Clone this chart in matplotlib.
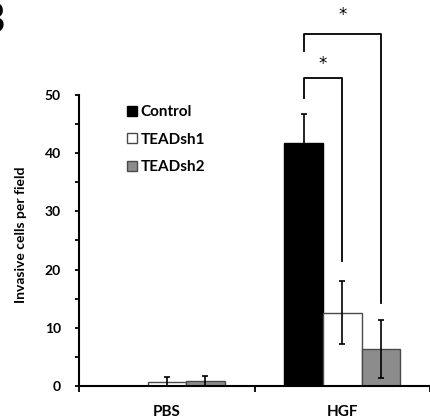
import matplotlib
matplotlib.use('Agg')
import matplotlib.pyplot as plt
from matplotlib.patches import Patch
import numpy as np

plt.rcParams['font.family'] = ['Lato', 'DejaVu Sans']
plt.rcParams['font.weight'] = 'bold'

# data
groups = ['PBS', 'HGF']
series = ['Control', 'TEADsh1', 'TEADsh2']
control = [0.0, 41.7]
control_err = [0.0, 5.1]
teadsh1 = [0.65, 12.6]
teadsh1_err = [0.85, 5.4]
teadsh2 = [0.85, 6.3]
teadsh2_err = [0.9, 5.0]

# significance brackets (HGF group): pairs of series, bracket height, leg ends, star height
sig_pairs = [(0, 1), (0, 2)]
sig_top = [52.9, 60.5]
sig_left_end = [49.5, 57.6]
sig_right_end = [21.5, 14.2]
sig_star = [55.4, 63.8]

values = [control, teadsh1, teadsh2]
errors = [control_err, teadsh1_err, teadsh2_err]
colors = ['black', 'white', '#8c8c8c']
edges = ['black', '#4a4a4a', '#4a4a4a']

fig = plt.figure(figsize=(4.30, 4.19), dpi=100)
ax = fig.add_axes([0.184, 0.0788, 0.816, 0.6945])

x = np.arange(len(groups))
w = 0.22
offsets = [-w, 0, w]
for vals, errs, c, ec, off, name in zip(values, errors, colors, edges, offsets, series):
    vals = np.array(vals)
    errs = np.array(errs)
    lower = np.minimum(errs, vals)
    ax.bar(x + off, vals, width=w, color=c, edgecolor=ec, linewidth=1.0, label=name, zorder=2)
    ax.errorbar(x + off, vals, yerr=[lower, errs], fmt='none', ecolor='black',
                elinewidth=1.2, capsize=2, capthick=1.2, zorder=3)

# brackets
gi = 1
for (a, b), top, le, re, sy in zip(sig_pairs, sig_top, sig_left_end, sig_right_end, sig_star):
    xa = x[gi] + offsets[a]
    xb = x[gi] + offsets[b]
    ax.plot([xa, xa, xb, xb], [le, top, top, re], color='black', linewidth=1.3,
            clip_on=False, zorder=4)
    ax.text((xa + xb) / 2, sy, '*', ha='center', va='center', fontsize=12,
            family='DejaVu Sans', fontweight='normal', clip_on=False)

ax.set_xlim(-0.5, 1.465)
ax.set_ylim(0, 50)
ax.set_yticks([0, 10, 20, 30, 40, 50])
ax.set_yticks([5, 15, 25, 35, 45], minor=True)
ax.set_xticks(x)
ax.set_xticklabels(groups, fontsize=11, fontweight='bold')
ax.set_xticks([-0.5, 0.5, 1.5], minor=True)
ax.tick_params(axis='x', which='major', length=0, pad=14)
ax.tick_params(axis='x', which='minor', length=4, width=1.3, direction='out')
ax.tick_params(axis='y', which='both', length=3, width=1.3, direction='out', pad=10,
               labelsize=10)
for t in ax.get_yticklabels():
    t.set_fontweight('bold')

ax.spines['top'].set_visible(False)
ax.spines['right'].set_visible(False)
ax.spines['left'].set_linewidth(1.5)
ax.spines['bottom'].set_linewidth(1.5)

ax.set_ylabel('Invasive cells per field', fontsize=10, fontweight='bold')
ax.yaxis.set_label_coords(-0.148, 0.52)

handles = [Patch(facecolor=c, edgecolor=ec, linewidth=1.0) for c, ec in zip(colors, edges)]
fig.legend(handles, series, loc='upper left', bbox_to_anchor=(127 / 430, 1 - 105 / 419),
           frameon=False, handlelength=0.65, handleheight=0.65,
           handletextpad=0.25, labelspacing=0.89, borderpad=0, borderaxespad=0,
           prop={'weight': 'bold', 'size': 11})

fig.text(5 / 430, 1 - 33 / 419, 'B', ha='right', va='baseline', fontsize=30,
         fontweight='bold')

fig.savefig('out.png', dpi=100)
